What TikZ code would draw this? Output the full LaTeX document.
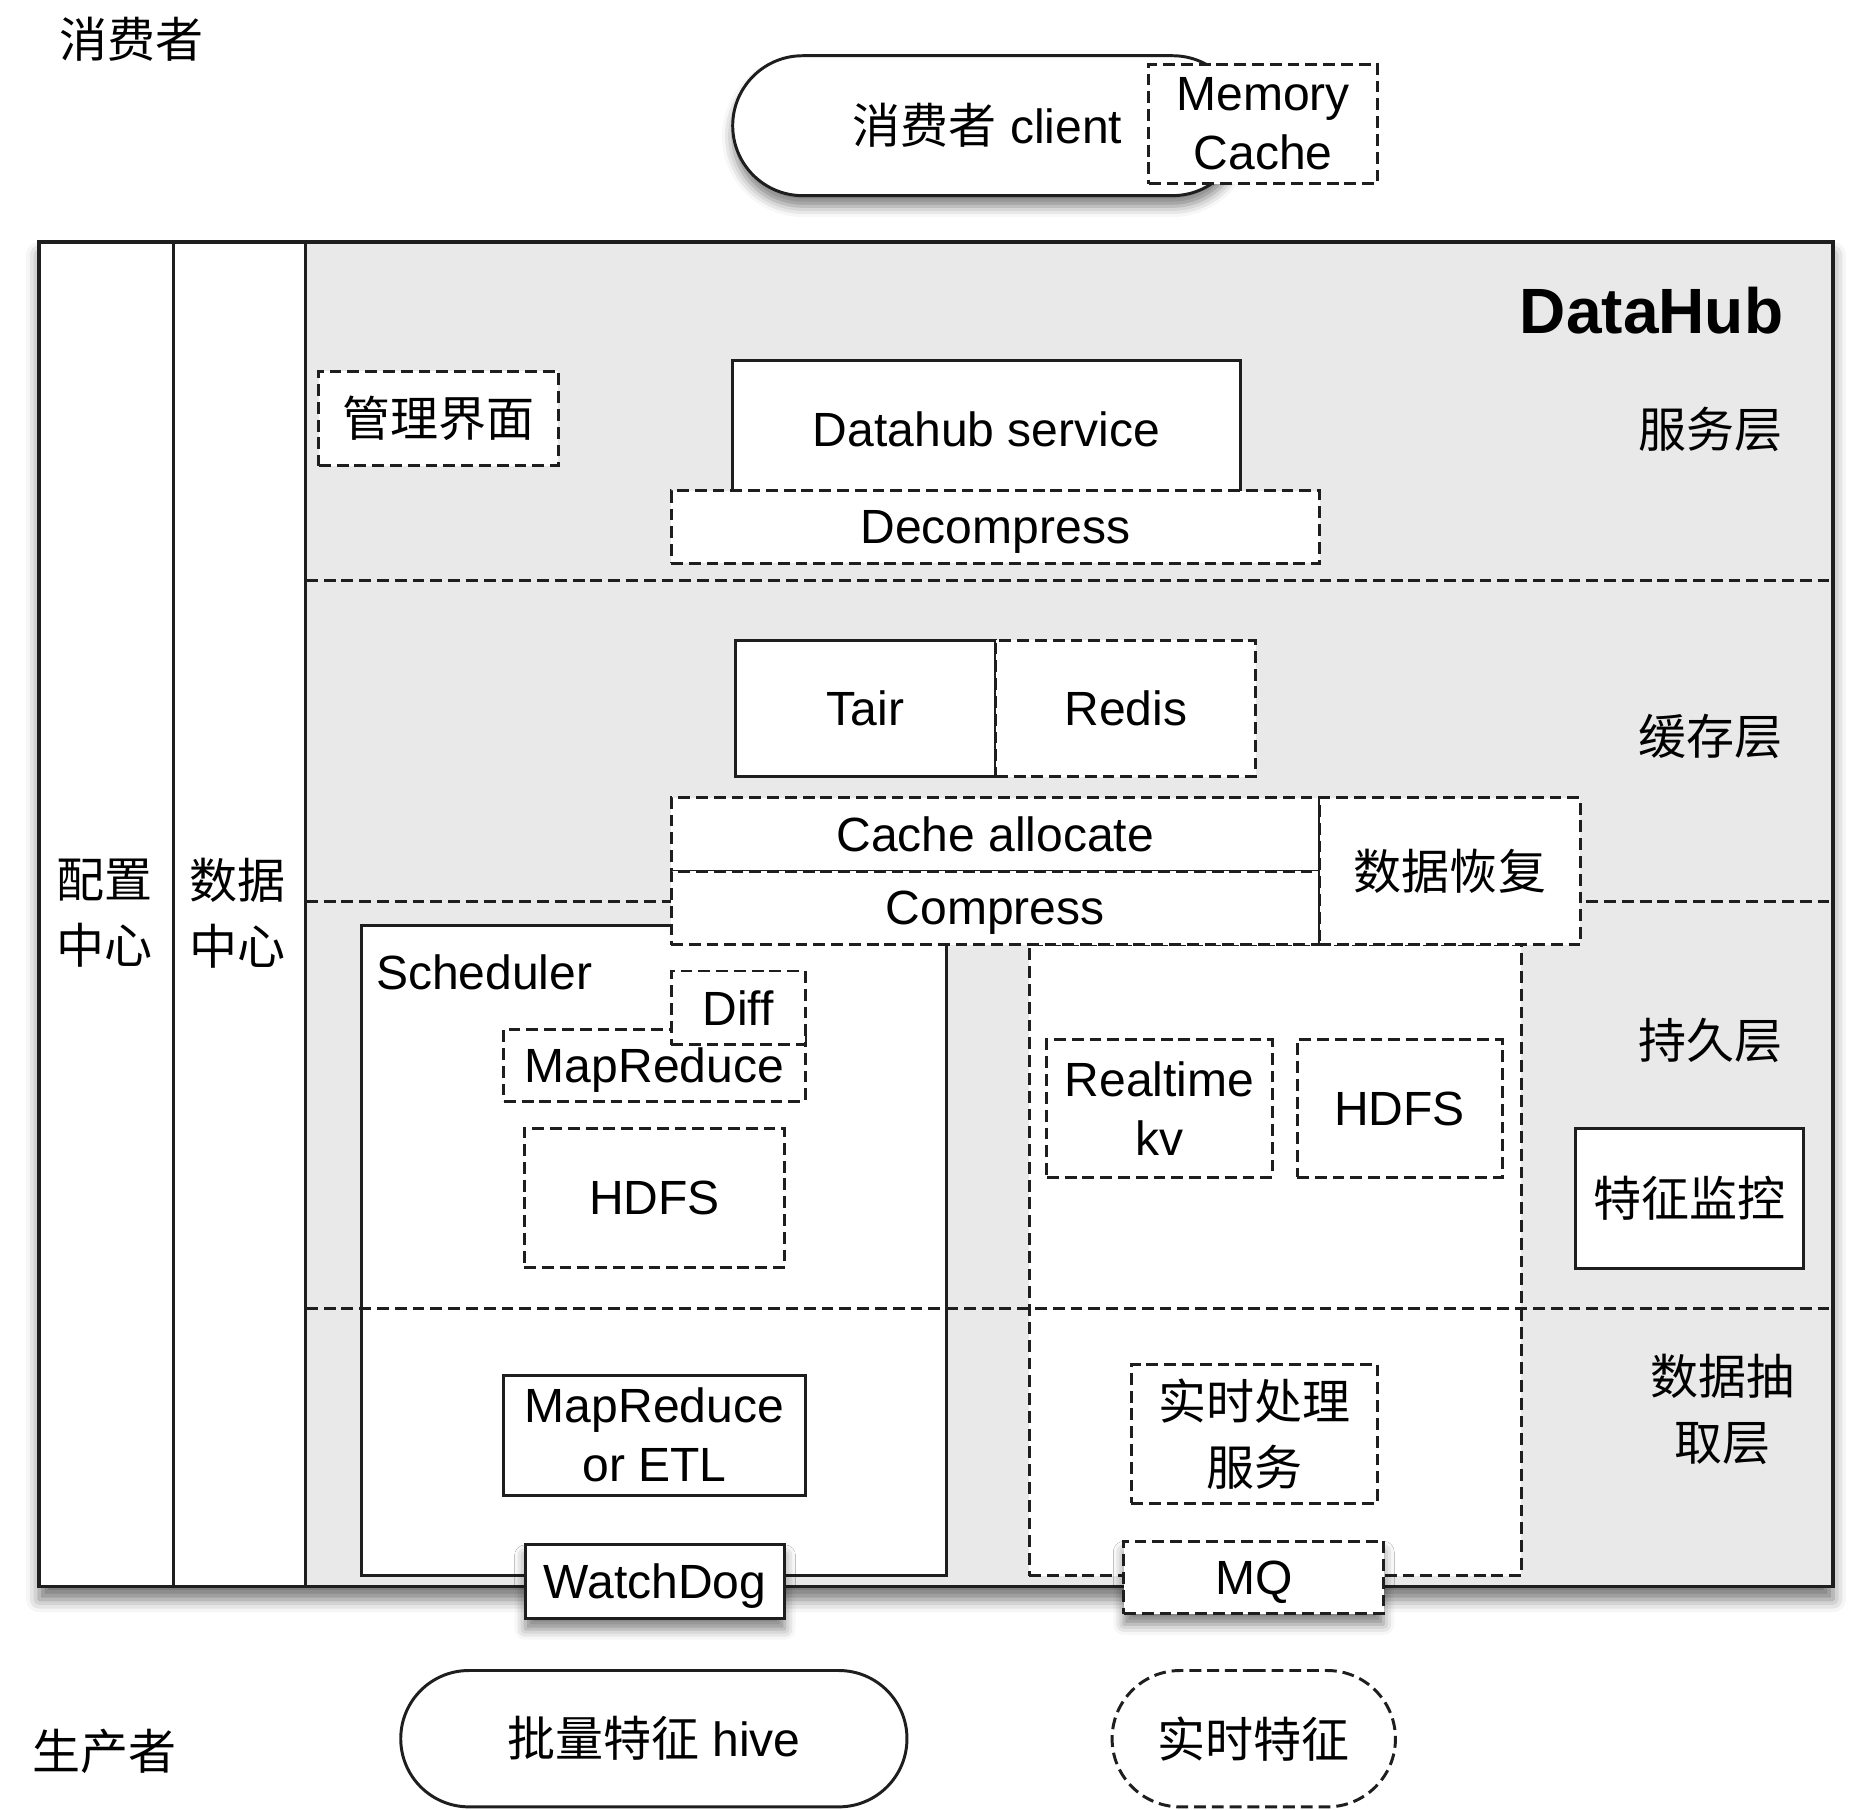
\documentclass[tikz,border=0pt]{standalone}
\usepackage{fontspec}
\setmainfont{Liberation Sans}
\newfontfamily\cjkfont{Noto Sans CJK SC}
\usetikzlibrary{shapes.misc,shadows.blur}
\definecolor{linec}{RGB}{30,30,30}
\definecolor{hubgray}{RGB}{233,233,233}
\newcommand\dhfont{\fontsize{40.5}{50}\selectfont}
\newcommand\dhcjk{\cjkfont\fontsize{40.5}{56}\selectfont}
\begin{document}
\begin{tikzpicture}[x=1pt,y=-1pt,
  every node/.style={inner sep=0pt, align=center, font=\dhfont, text=black},
  sz/.style 2 args={minimum width=#1pt, minimum height=#2pt},
  solidbox/.style={draw=linec, line width=2.5pt, fill=white},
  dashbox/.style={solidbox, dash pattern=on 10pt off 5pt},
  layersep/.style={draw=linec, line width=2.5pt, dash pattern=on 10pt off 5pt},
  cjktext/.style={font=\dhcjk},
  flat/.style={text depth=0pt},
  lift/.style={blur shadow={shadow xshift=0pt, shadow yshift=-9pt, shadow blur radius=9pt, shadow opacity=50}}
]
\useasboundingbox (0,0) rectangle (1568,1526);

% ---- consumer side ----
\node[cjktext] (consumer) at (111,33) {消费者};
\node[solidbox, rounded rectangle, lift, sz={430}{118}] (client) at (833,106) {{\cjkfont 消费者} client};
\node[dashbox, sz={193}{101}] (memcache) at (1065.5,104.5) {Memory\\Cache};

% ---- DataHub frame ----
\path[fill=white, blur shadow={shadow xshift=0pt, shadow yshift=-11pt, shadow blur radius=11pt, shadow opacity=55}]
  (33,204) rectangle (1546,1338);
\fill[hubgray] (258,204) rectangle (1546,1338);
\draw[linec, line width=3pt] (33,204) rectangle (1546,1338);
\draw[linec, line width=2.5pt] (146,204) -- (146,1338) (258,204) -- (258,1338);

\node[cjktext] (config) at (88,770) {配置\\中心};
\node[cjktext] (datacenter) at (200,770) {数据\\中心};
\node[font=\fontsize{54}{60}\selectfont\bfseries] (hubtitle) at (1393,262) {DataHub};

% layer labels
\node[cjktext] (lsvc) at (1443,362) {服务层};
\node[cjktext] (lcache) at (1443,621) {缓存层};
\node[cjktext] (lpersist) at (1443,878) {持久层};
\node[cjktext] (lextract) at (1453,1189) {数据抽\\取层};

% layer separators (upper)
\draw[layersep] (258,490) -- (1546,490);
\draw[layersep] (258,760) -- (1546,760);

% ---- service layer ----
\node[dashbox, cjktext, sz={202}{80}] (mgmt) at (370,353) {管理界面};
\node[solidbox, sz={428}{116}] (svc) at (832,362) {Datahub service};
\node[dashbox, flat, sz={547}{61}] (decomp) at (839.5,444.5) {Decompress};

% ---- cache layer ----
\node[solidbox, sz={220}{115}] (tair) at (730,597.5) {Tair};
\node[dashbox, sz={219}{115}] (redis) at (949.5,597.5) {Redis};

% ---- batch and realtime regions ----
\node[solidbox, sz={493}{548}] (sched) at (551.5,1055) {};
\node[dashbox, sz={415}{532}] (rtzone) at (1075.5,1063) {};
\node[anchor=west] (schedlbl) at (317,820) {Scheduler};

\draw[layersep] (258,1104) -- (1546,1104);

\node[dashbox, sz={547}{62}] (alloc) at (839.5,704) {Cache allocate};
\node[dashbox, flat, sz={547}{62}] (comp) at (839.5,766) {Compress};
\node[dashbox, cjktext, sz={220}{124}] (recover) at (1223,735) {数据恢复};

% batch side
\node[dashbox, flat, sz={254}{61}] (mr) at (552,898.5) {MapReduce};
\node[dashbox, sz={113}{62}] (diff) at (622.5,850) {Diff};
\node[dashbox, sz={220}{117}] (hdfsb) at (552,1010.5) {HDFS};
\node[solidbox, sz={254}{101}] (etl) at (552,1210.5) {MapReduce\\or ETL};
\node[solidbox, lift, flat, sz={219}{62}] (watchdog) at (552.5,1334) {WatchDog};

% realtime side
\node[dashbox, sz={190}{116}] (rtkv) at (978,935) {Realtime\\kv};
\node[dashbox, sz={173}{116}] (hdfsr) at (1180.5,935) {HDFS};
\node[dashbox, cjktext, sz={208}{117}] (rtproc) at (1058,1209.5) {实时处理\\服务};
\node[dashbox, lift, flat, sz={219}{61}] (mq) at (1057.5,1330.5) {MQ};

% monitoring
\node[solidbox, cjktext, sz={192}{118}] (monitor) at (1425,1011) {特征监控};

% ---- producer side ----
\node[cjktext] (producer) at (88,1477) {生产者};
\node[solidbox, rounded rectangle, sz={427}{115}] (hive) at (551.5,1466.5) {{\cjkfont 批量特征} hive};
\node[dashbox, rounded rectangle, cjktext, sz={239}{115}] (rtfeat) at (1057.5,1466.5) {实时特征};
\end{tikzpicture}
\end{document}
